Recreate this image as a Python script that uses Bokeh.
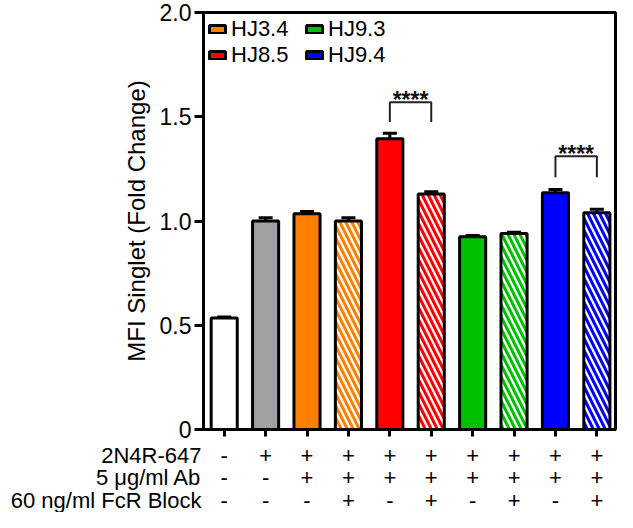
from bokeh.plotting import figure
from bokeh.layouts import column
from bokeh.models import (Range1d, FixedTicker, Legend, LegendItem,
                          Whisker, TeeHead, ColumnDataSource)
from bokeh.embed import file_html
from bokeh.resources import INLINE
from bokeh.core.properties import value

# ---------------- data ----------------
bar_index = [0, 1, 2, 3, 4, 5, 6, 7, 8, 9]
means = [0.535, 1.00, 1.035, 1.00, 1.395, 1.13, 0.925, 0.94, 1.135, 1.04]
sems = [0.005, 0.016, 0.010, 0.016, 0.026, 0.010, 0.005, 0.006, 0.016, 0.016]
bar_colors = ["#FFFFFF", "#A0A0A4", "#FF8000", "#FF8000", "#FF0000", "#FF0000",
              "#00C000", "#00C000", "#0000FF", "#0000FF"]
hatched = [False, False, False, True, False, True, False, True, False, True]

row_names = ["2N4R-647", "5 \u03bcg/ml Ab", "60 ng/ml FcR Block"]
row_2n4r = ["-", "+", "+", "+", "+", "+", "+", "+", "+", "+"]
row_ab = ["-", "-", "+", "+", "+", "+", "+", "+", "+", "+"]
row_fcr = ["-", "-", "-", "+", "-", "+", "-", "+", "-", "+"]

legend_names = ["HJ3.4", "HJ9.3", "HJ8.5", "HJ9.4"]
legend_bar = [2, 6, 4, 8]

sig_left = [4, 8]
sig_right = [5, 9]
sig_top = [1.57, 1.31]
sig_bottom = [1.475, 1.21]
sig_text = ["****", "****"]

y_ticks = [0, 0.5, 1.0, 1.5, 2.0]
y_tick_labels = ["0", "0.5", "1.0", "1.5", "2.0"]

FONT = "Liberation Sans"
INK = "black"

# ---------------- layout constants ----------------
W = 617
TOP_H = 442
BOT_H = 70
FRAME_L = 203
FRAME_R_BORDER = 2
X0, X1 = -0.5, 9.45

# ---------------- main chart ----------------
p = figure(width=W, height=TOP_H, output_backend="svg", toolbar_location=None,
           x_range=Range1d(X0, X1), y_range=Range1d(0, 2.0),
           min_border_left=FRAME_L, min_border_right=FRAME_R_BORDER,
           min_border_top=12, min_border_bottom=13,
           background_fill_color="white", border_fill_color="white")
p.grid.visible = False
p.outline_line_color = INK
p.outline_line_width = 3

src = ColumnDataSource(dict(
    x=bar_index, top=means, color=bar_colors,
    hatch=["left_diagonal_line" if h else " " for h in hatched],
    upper=[m + s for m, s in zip(means, sems)],
))
bars = p.vbar(x="x", top="top", width=0.63, source=src, fill_color="color",
              line_color=INK, line_width=3,
              hatch_pattern="hatch", hatch_color="white", hatch_weight=2.3, hatch_scale=12)

wh = Whisker(base="x", lower="top", upper="upper", source=src, line_width=3,
             line_color=INK, lower_head=None,
             upper_head=TeeHead(size=14, line_width=3, line_color=INK))
p.add_layout(wh)

# significance brackets
bx = [[a, a, b, b] for a, b in zip(sig_left, sig_right)]
by = [[lo, hi, hi, lo] for lo, hi in zip(sig_bottom, sig_top)]
p.multi_line(xs=bx, ys=by, line_color="#222222", line_width=2)
p.text(x=[(a + b) / 2 for a, b in zip(sig_left, sig_right)], y=sig_top, text=sig_text,
       text_font=value(FONT), text_font_size="23px", text_font_style="bold",
       text_align="center", text_baseline="alphabetic", y_offset=-2, text_color="#111111")

# axes
yax = p.yaxis[0]
yax.ticker = FixedTicker(ticks=y_ticks)
yax.major_label_overrides = {t: l for t, l in zip(y_ticks, y_tick_labels)}
yax.axis_label = "MFI Singlet (Fold Change)"
yax.axis_label_text_font = FONT
yax.axis_label_text_font_size = "24px"
yax.axis_label_text_font_style = "normal"
yax.axis_label_text_color = INK
yax.axis_label_standoff = 7
yax.major_label_text_font = FONT
yax.major_label_text_font_size = "23px"
yax.major_label_text_color = INK
yax.major_label_standoff = 3
yax.axis_line_width = 3
yax.axis_line_color = INK
yax.major_tick_line_width = 3
yax.major_tick_line_color = INK
yax.major_tick_out = 9
yax.major_tick_in = 0
yax.minor_tick_line_color = None

xax = p.xaxis[0]
xax.ticker = FixedTicker(ticks=bar_index)
xax.major_label_overrides = {i: "" for i in bar_index}
xax.major_label_standoff = 0
xax.major_label_text_font_size = "1px"
xax.axis_line_width = 3
xax.axis_line_color = INK
xax.major_tick_line_width = 3
xax.major_tick_line_color = INK
xax.major_tick_out = 7
xax.major_tick_in = 0
xax.minor_tick_line_color = None

# legend
items = [LegendItem(label=n, renderers=[bars], index=i) for n, i in zip(legend_names, legend_bar)]
leg = Legend(items=items, location="top_left", orientation="horizontal", ncols=2,
             label_text_font=FONT, label_text_font_size="22px", label_text_color=INK,
             glyph_width=20, glyph_height=10, label_standoff=4, label_width=73,
             label_height=22, spacing=0, padding=0, margin=4,
             border_line_color=None, background_fill_alpha=0)
p.add_layout(leg)

# ---------------- condition table (shares the x scale) ----------------
ROW_PX = 22.5
FIRST_ROW_PX = 12.5
t_ytop = FIRST_ROW_PX / ROW_PX
t_ybot = t_ytop - BOT_H / ROW_PX
t = figure(width=W, height=BOT_H, output_backend="svg", toolbar_location=None,
           x_range=p.x_range, y_range=Range1d(t_ybot, t_ytop),
           x_axis_location=None, y_axis_location="left",
           min_border_left=FRAME_L, min_border_right=FRAME_R_BORDER,
           min_border_top=0, min_border_bottom=0,
           outline_line_color=None, background_fill_color="white", border_fill_color="white")
t.grid.visible = False

row_pos = [-r for r in range(len(row_names))]
tax = t.yaxis[0]
tax.ticker = FixedTicker(ticks=row_pos)
tax.major_label_overrides = {r: n for r, n in zip(row_pos, row_names)}
tax.major_label_text_font = FONT
tax.major_label_text_font_size = "22px"
tax.major_label_text_color = INK
tax.major_label_standoff = 2
tax.axis_line_color = None
tax.major_tick_line_color = None
tax.minor_tick_line_color = None
tax.major_tick_out = 0
tax.major_tick_in = 0

rows = [row_2n4r, row_ab, row_fcr]
tx, ty, tt = [], [], []
for r, vals in zip(row_pos, rows):
    for i, v in zip(bar_index, vals):
        tx.append(i)
        ty.append(r)
        tt.append(v)
t.text(x=tx, y=ty, text=tt, text_font=value(FONT), text_font_size="22px",
       text_align="center", text_baseline="middle", text_color=INK)

layout = column(p, t, spacing=0)
open("out.html", "w").write(file_html(layout, INLINE))
